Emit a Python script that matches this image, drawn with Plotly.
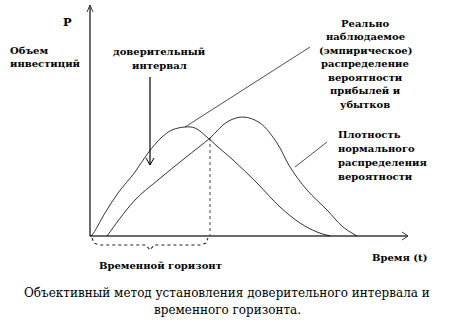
import plotly.graph_objects as go

# Empirical (observed) distribution curve: time t, value P
emp_t = [0.0, 0.2, 1.5, 2.8, 4.5, 5.8, 7.2, 8.2, 9.5, 10.5, 11.8, 12.8, 14.3, 16.7, 19.0, 21.0, 22.7, 24.0]
emp_p = [0.0, 0.1, 2.3, 4.3, 6.4, 8.3, 9.9, 10.6, 10.9, 10.8, 9.8, 8.9, 7.6, 5.3, 2.9, 1.3, 0.4, 0.0]

# Normal density curve
norm_t = [1.7, 4.5, 6.8, 9.5, 12.0, 13.7, 15.3, 17.0, 18.7, 20.0, 21.7, 23.7, 25.3, 26.7]
norm_p = [0.0, 3.6, 5.6, 7.8, 9.8, 11.4, 11.9, 11.3, 9.3, 6.9, 4.6, 2.6, 0.9, 0.0]

horizon_t = 12.0          # time horizon (intersection of curves)
horizon_p = 9.8

emp_label = ["Реально", "наблюдаемое", "(эмпирическое)", "распределение",
             "вероятности", "прибылей и", "убытков"]
norm_label = ["Плотность", "нормального", "распределения", "вероятности"]
caption = ["Объективный метод установления доверительного интервала и",
           "временного горизонта."]

SERIF = "DejaVu Serif"
fig = go.Figure()

def line(xs, ys, color="black", width=1, dash="solid", shape="linear"):
    fig.add_trace(go.Scatter(x=xs, y=ys, mode="lines", hoverinfo="skip",
                             line=dict(color=color, width=width, dash=dash, shape=shape),
                             showlegend=False))

# axes
AX = "#3a3a3a"
line([0, 0], [0, 23.1], AX, 1.5)
line([0, 31.8], [0, 0], AX, 1.5)
line([-0.3, 0, 0.3], [22.4, 23.1, 22.4], AX, 1)
line([31.2, 31.8, 31.2], [0.4, 0, -0.4], AX, 1)

# curves
line(emp_t, emp_p, "black", 0.8, shape="spline")
line(norm_t, norm_p, "black", 0.8, shape="spline")

# dotted horizon line
line([horizon_t, horizon_t], [horizon_p, 0], "#444", 1, dash="dot")

# leader lines
line([emp_t[8], 22.0], [emp_p[8], 18.9], "black", 0.7)
line([23.7, 20.5], [9.4, 6.9], "black", 0.7)
line([6.0, 6.0], [15.9, 7.1], "black", 1.2)
line([5.6, 6.0, 6.4], [7.8, 7.1, 7.8], "black", 1)

# brace
line([0.2, 0.4, 0.9, 5.6, 6.0, 6.4, 11.1, 11.6, 11.8],
     [-0.2, -0.7, -0.9, -0.9, -1.4, -0.9, -0.9, -0.7, -0.2],
     "#222", 1.1, dash="dot")

def text(x, y, s, size=10, bold=True, xanchor="center"):
    fig.add_annotation(x=x, y=y, xref="x", yref="y", text=f"<b>{s}</b>" if bold else s,
                       showarrow=False, xanchor=xanchor, yanchor="middle",
                       font=dict(family=SERIF, size=size, color="black"))

text(-2.3, 21.4, "P", size=11.5)
text(-8.2, 18.6, "Объем", xanchor="left")
text(-8.2, 17.3, "инвестиций", xanchor="left")
text(6.9, 18.5, "доверительный")
text(6.9, 17.1, "интервал")
for i, s in enumerate(emp_label):
    text(27.5, 21.3 - i * 1.35, s)
for i, s in enumerate(norm_label):
    text(24.6, 10.2 - i * 1.4, s, xanchor="left")
text(30.9, -2.1, "Время (t)")
text(7.0, -2.9, "Временной горизонт")
text(13.7, -5.7, caption[0], size=12, bold=False)
text(13.7, -7.4, caption[1], size=12, bold=False)

fig.update_layout(width=453, height=330, margin=dict(l=0, r=0, t=0, b=0),
                  paper_bgcolor="white", plot_bgcolor="white",
                  font=dict(family=SERIF),
                  xaxis=dict(range=[-9, 36.3], visible=False, fixedrange=True),
                  yaxis=dict(range=[-9.4, 23.6], visible=False, fixedrange=True))
fig.write_html("out.html")
